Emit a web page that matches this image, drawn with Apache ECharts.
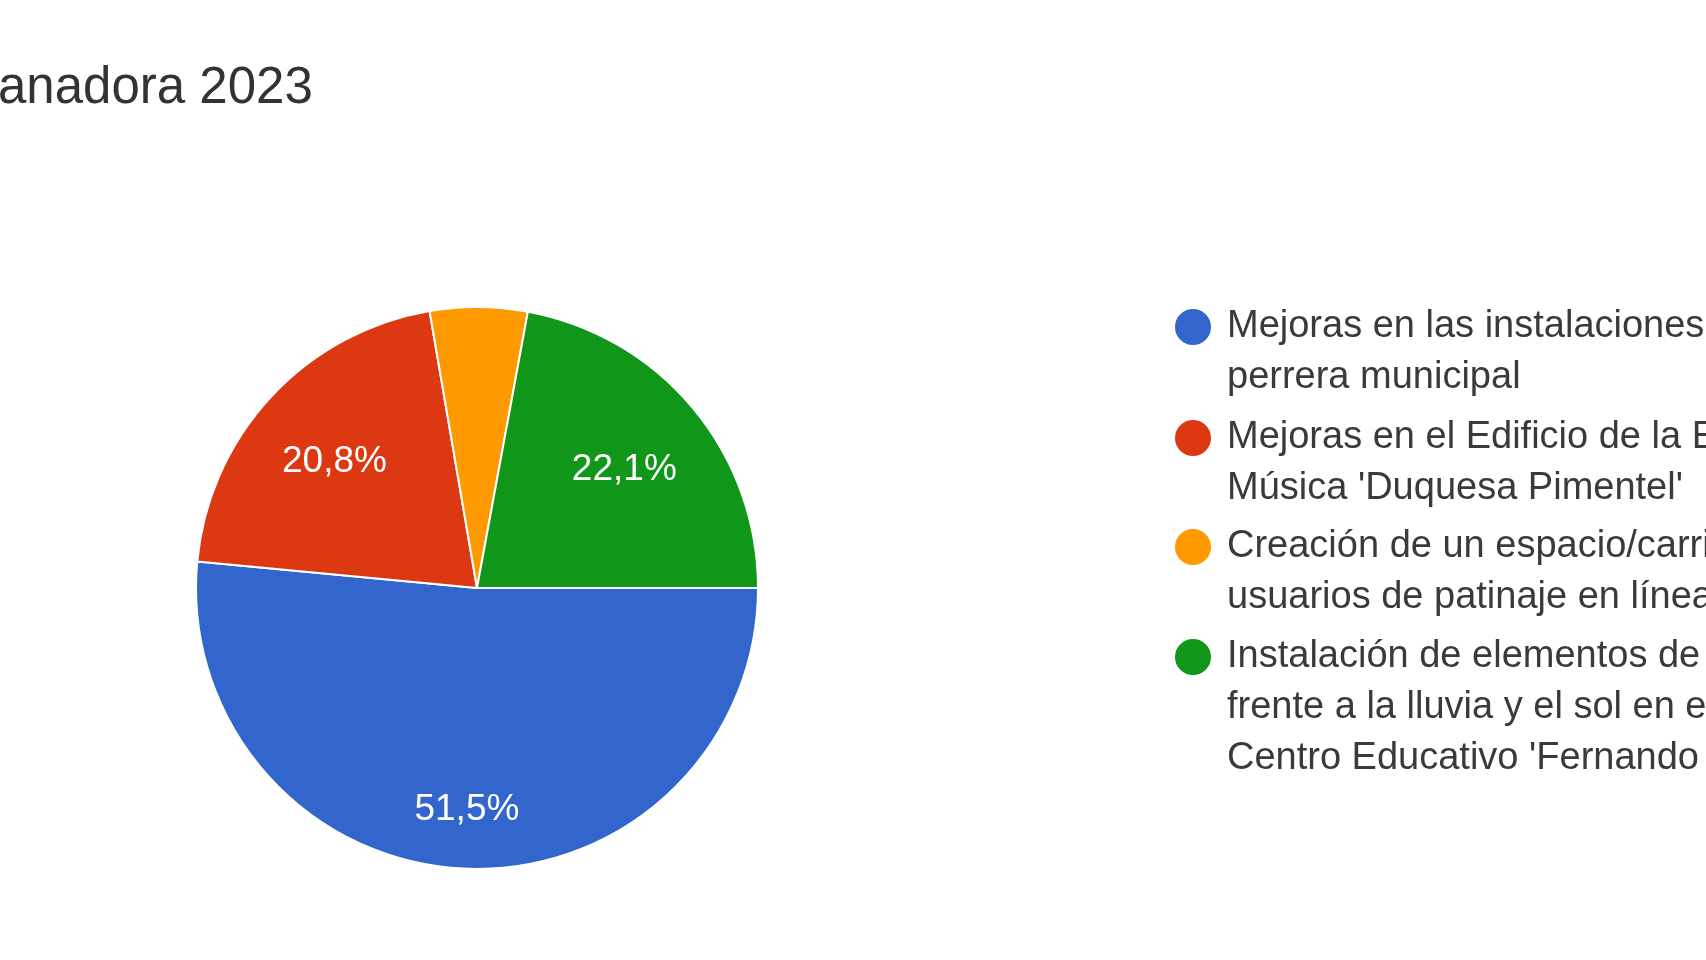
<!DOCTYPE html>
<html>
<head>
<meta charset="utf-8">
<script src="https://cdn.jsdelivr.net/npm/echarts@6/dist/echarts.min.js"></script>
<style>
  html, body { margin: 0; padding: 0; background: #fff; }
  #charts { width: 1706px; height: 960px; }
</style>
</head>
<body>
<div id="charts"></div>
<script>
// datos
const categories = [
  "Mejoras en las instalaciones de la\nperrera municipal",
  "Mejoras en el Edificio de la Escuela de\nMúsica 'Duquesa Pimentel'",
  "Creación de un espacio/carril para\nusuarios de patinaje en línea",
  "Instalación de elementos de protección\nfrente a la lluvia y el sol en el patio del\nCentro Educativo 'Fernando de Rojas'"
];
const percents = [51.5, 20.8, 5.6, 22.1];
const colors = ["#3366cc", "#dc3912", "#ff9900", "#109618"];
const titleText = "anadora 2023";

const chart = echarts.init(document.getElementById("charts"));

const font = "'Liberation Sans', Arial, sans-serif";
const lineH = 51;
const center = [477, 588];
const R = 281;

// una leyenda por elemento; lineas vacias delante para que el circulo
// quede a la altura de la primera linea
const legendRows = [327, 438, 547, 657];
const legends = categories.map(function (name, i) {
  const nLines = name.split("\n").length;
  return {
    data: [name],
    orient: "vertical",
    left: 1173,
    top: legendRows[i] - (2 * nLines - 1) * lineH / 2,
    padding: 0,
    icon: "circle",
    itemWidth: 38,
    itemHeight: 38,
    selectedMode: false,
    formatter: function (n) {
      return "\n".repeat(nLines - 1) + n;
    },
    textStyle: {
      fontFamily: font,
      fontSize: 38,
      lineHeight: lineH,
      color: "#3a3a3a",
      padding: [0, 0, 0, 10]
    }
  };
});

const pieData = categories.map(function (name, i) {
  return { name: name, value: percents[i], itemStyle: { color: colors[i] } };
});

const labelData = categories.map(function (name, i) {
  const item = { name: name, value: percents[i] };
  if (percents[i] < 10) item.label = { show: false };
  if (i === 0) item.label = { offset: [-1, 29] };
  return item;
});

const option = {
  animation: false,
  title: {
    text: titleText,
    left: -2,
    top: 63,
    padding: 0,
    textStyle: {
      fontFamily: font,
      fontSize: 51,
      fontWeight: "normal",
      color: "#333333"
    }
  },
  legend: legends,
  series: [
    {
      type: "pie",
      center: center,
      radius: [0, R],
      startAngle: 0,
      clockwise: true,
      label: { show: false },
      labelLine: { show: false },
      itemStyle: { borderColor: "#ffffff", borderWidth: 2 },
      emphasis: { disabled: true },
      data: pieData
    },
    {
      // anillo invisible solo para colocar las etiquetas
      type: "pie",
      center: center,
      radius: [99, R],
      startAngle: 0,
      clockwise: true,
      silent: true,
      legendHoverLink: false,
      itemStyle: { color: "rgba(0,0,0,0)" },
      label: {
        show: true,
        position: "inside",
        offset: [-1, 5],
        fontFamily: font,
        fontSize: 37,
        color: "#ffffff",
        formatter: function (p) {
          return p.value.toFixed(1).replace(".", ",") + "%";
        }
      },
      labelLine: { show: false },
      emphasis: { disabled: true },
      data: labelData
    }
  ]
};

chart.setOption(option);
</script>
</body>
</html>
